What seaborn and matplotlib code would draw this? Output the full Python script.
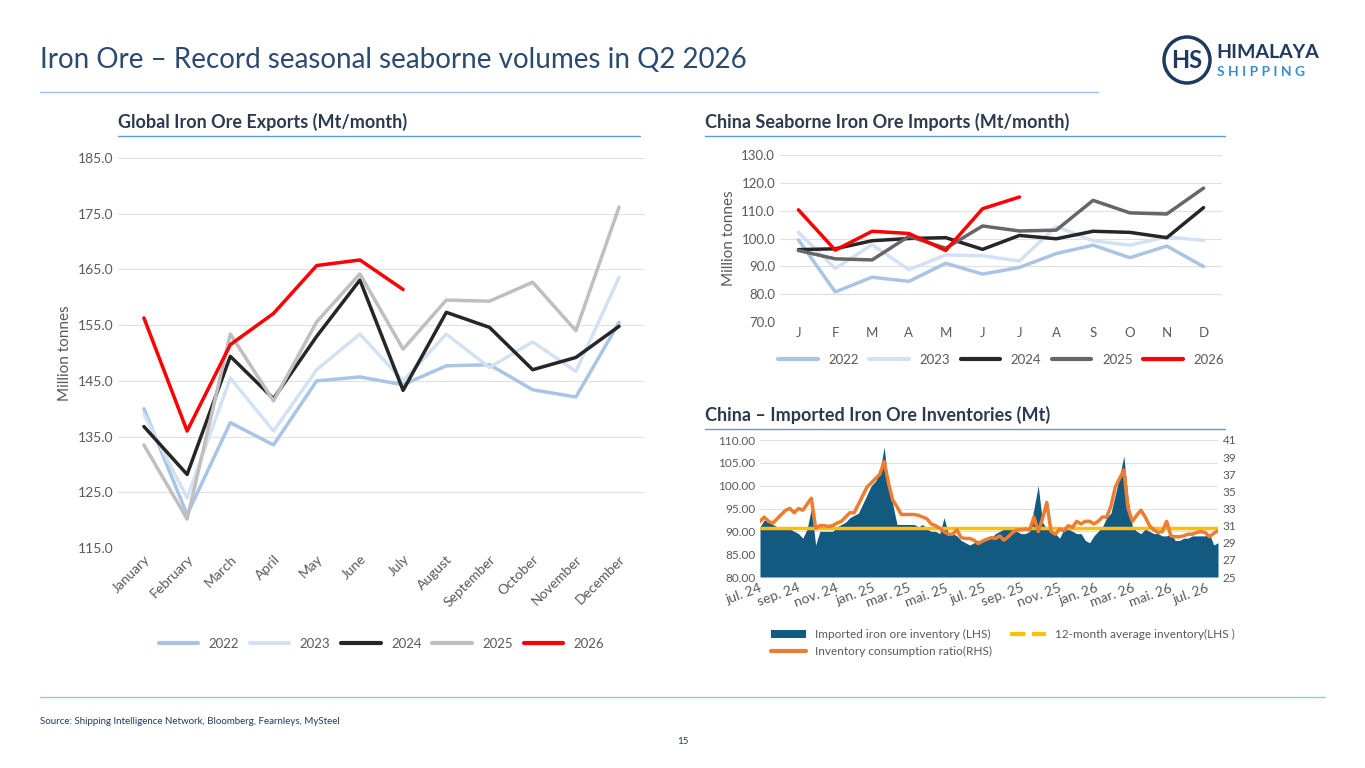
import numpy as np
import pandas as pd
import matplotlib
matplotlib.use("Agg")
import matplotlib.pyplot as plt
import seaborn as sns
from matplotlib.patches import Ellipse
from matplotlib.lines import Line2D

sns.set_style("white")
plt.rcParams['font.family'] = ['Lato', 'DejaVu Sans']

# --- data: global exports (Mt/month)
months_long = ["January", "February", "March", "April", "May", "June", "July",
               "August", "September", "October", "November", "December"]
exp_2022 = [140.0, 121.0, 137.5, 133.5, 145.0, 145.7, 144.3, 147.7, 147.9, 143.4, 142.1, 155.5]
exp_2023 = [139.0, 124.0, 145.5, 136.0, 147.0, 153.4, 145.0, 153.4, 147.4, 152.0, 146.7, 163.6]
exp_2024 = [136.8, 128.2, 149.4, 141.8, 153.0, 163.1, 143.3, 157.3, 154.6, 147.0, 149.2, 154.8]
exp_2025 = [133.5, 120.2, 153.4, 141.4, 155.6, 164.2, 150.7, 159.5, 159.3, 162.7, 154.0, 176.2]
exp_2026 = [156.3, 136.0, 151.5, 157.1, 165.7, 166.7, 161.4]

# --- data: China seaborne imports (Mt/month)
months_short = ["J", "F", "M", "A", "M", "J", "J", "A", "S", "O", "N", "D"]
imp_2022 = [99.5, 80.8, 86.1, 84.6, 91.1, 87.2, 89.6, 94.6, 97.6, 93.1, 97.3, 89.9]
imp_2023 = [102.2, 89.2, 97.8, 88.8, 94.1, 93.8, 91.9, 104.3, 99.2, 97.6, 100.6, 99.3]
imp_2024 = [96.0, 96.3, 99.2, 100.0, 100.3, 96.1, 101.1, 99.9, 102.6, 102.2, 100.3, 111.1]
imp_2025 = [95.7, 92.7, 92.3, 100.8, 96.5, 104.5, 102.7, 103.0, 113.7, 109.2, 108.8, 118.1]
imp_2026 = [110.3, 95.8, 102.6, 101.8, 95.7, 110.7, 114.9]

# --- data: China imported ore inventories (weekly, Mt) and consumption ratio
inventory = [91, 92.5, 92, 91.5, 91, 91, 90.5, 90.5,
             90, 89.5, 88.5, 90.5,
             95, 87, 90, 90, 90,
             90, 91, 91.5, 92, 93,
             93.5, 94, 96, 98, 100,
             101, 103, 108.5, 100, 96,
             91.5, 91.5, 91.5, 91.5,
             91.5, 91, 91.5, 90.5, 90,
             90, 89.5, 93, 89.5,
             89.5, 89, 88, 87.5,
             87, 87.5, 88, 88, 88.5,
             88.5, 89.5, 90, 90.5, 91,
             90.5, 90, 89.5, 89.5,
             90, 95, 100, 92, 90.5,
             90, 89.5, 88.5, 90.5,
             90.5, 90, 89.5, 89.5, 88,
             87.5, 89, 90, 91,
             93, 94, 98, 102, 106.5,
             97, 91, 90, 89.5,
             90.5, 90, 89.5, 89.5, 89,
             89, 89.5, 88, 88,
             88.5, 88.5, 89, 89,
             89, 89, 89.5, 87, 87.5]
cons_ratio = [31.5, 32, 31.5, 31.3, 31.8, 32.3, 32.8, 33,
              32.5, 33, 32.8, 33.5,
              34.2, 30.7, 31, 31, 30.9,
              31, 31.3, 31.5, 32, 32.5,
              32.5, 33.5, 34.5, 35.5, 36,
              36.5, 37, 38.5, 36, 34,
              33.2, 32.3, 32.3, 32.3,
              32.3, 32.2, 32, 31.8, 31.2,
              31, 30.7, 30.3, 30,
              30, 30.5, 29.6, 29.5,
              29.5, 29.3, 28.9, 29.2, 29.4,
              29.6, 29.5, 29.8, 29.3, 29.7,
              30.2, 30.5, 30.5, 30.6,
              30.5, 32, 30.3, 31.8, 33.7,
              30.3, 30, 30.6, 30.4,
              31, 30.8, 31.5, 31.2, 31.5,
              31.5, 31.2, 31.5, 32,
              32, 33.3, 35.5, 36.5, 37.5,
              33, 31.5, 32.2, 32.8,
              32, 31, 30.5, 30.2, 30.3,
              31.5, 29.8, 29.7, 29.7,
              29.8, 30, 30, 30.2,
              30.3, 30.2, 29.7, 30.1, 30.4]
inv_avg = 90.7
inv_ticks = ["jul. 24", "sep. 24", "nov. 24", "jan. 25", "mar. 25", "mai. 25", "jul. 25",
             "sep. 25", "nov. 25", "jan. 26", "mar. 26", "mai. 26", "jul. 26"]

years = ["2022", "2023", "2024", "2025", "2026"]
pal_left = {"2022": "#A9C4E4", "2023": "#D3E2F2", "2024": "#262626", "2025": "#BFBFBF", "2026": "#FF0000"}
pal_right = {"2022": "#A9C4E4", "2023": "#D3E2F2", "2024": "#262626", "2025": "#666666", "2026": "#FF0000"}
grey = "#595959"
navy = "#1F3A5F"
rule = "#9DC3E6"


def long_df(series, labels):
    rows = []
    for yr, vals in zip(years, series):
        for i, v in enumerate(vals):
            rows.append({"x": i, "label": labels[i], "year": yr, "value": v})
    return pd.DataFrame(rows)


def thick_legend(leg):
    for ln in leg.get_lines():
        ln.set_linewidth(3)


fig = plt.figure(figsize=(13.65, 7.68), dpi=100)

# header
fig.text(40 / 1365, 1 - 60 / 768, "Iron Ore – Record seasonal seaborne volumes in Q2 2026",
         fontsize=20, color="#2B4A6F", va="center")
fig.add_artist(Line2D([40 / 1365, 1098 / 1365], [1 - 92 / 768] * 2, color=rule, lw=1))
fig.add_artist(Line2D([40 / 1365, 1325 / 1365], [1 - 697 / 768] * 2, color=rule, lw=1))
fig.text(40 / 1365, 1 - 722 / 768, "Source: Shipping Intelligence Network, Bloomberg, Fearnleys, MySteel",
         fontsize=7, color=navy, va="center")
fig.text(683 / 1365, 1 - 741 / 768, "15", fontsize=7, color=navy, ha="center", va="center")

# logo
fig.add_artist(Ellipse((1187 / 1365, 1 - 60 / 768), 46 / 1365, 46 / 768, transform=fig.transFigure,
                       facecolor="white", edgecolor=navy, lw=2.5))
fig.text(1187 / 1365, 1 - 60 / 768, "HS", fontsize=17, fontweight="bold", color=navy,
         ha="center", va="center")
fig.text(1216 / 1365, 1 - 52 / 768, "HIMALAYA", fontsize=14, fontweight="bold", color=navy, va="center")
fig.text(1217 / 1365, 1 - 72 / 768, "S H I P P I N G", fontsize=10, fontweight="bold", color="#3B8FD0", va="center")

# section headers
for x0, x1, y, txt in [(118, 640, 122, "Global Iron Ore Exports (Mt/month)"),
                       (705, 1225, 122, "China Seaborne Iron Ore Imports (Mt/month)"),
                       (705, 1225, 415, "China – Imported Iron Ore Inventories (Mt)")]:
    fig.text(x0 / 1365, 1 - y / 768, txt, fontsize=13, fontweight="bold", color="#2B3A4F", va="center")
    fig.add_artist(Line2D([x0 / 1365, x1 / 1365], [1 - (y + 14) / 768] * 2, color="#5B9BD5", lw=1))

# left chart
ax1 = fig.add_axes([118 / 1365, 1 - 548 / 768, 527 / 1365, 390 / 768])
df1 = long_df([exp_2022, exp_2023, exp_2024, exp_2025, exp_2026], months_long)
sns.lineplot(data=df1, x="x", y="value", hue="year", palette=pal_left, lw=2.5, ax=ax1)
ax1.set_ylim(115, 185)
ax1.set_yticks(np.arange(115, 186, 10))
ax1.set_yticklabels([f"{v:.1f}" for v in np.arange(115, 186, 10)])
ax1.set_xlim(-0.6, 11.6)
ax1.set_xticks(range(12))
ax1.set_xticklabels(months_long, rotation=45, ha="right", rotation_mode="anchor", fontsize=11)
ax1.set_xlabel("")
ax1.set_ylabel("Million tonnes", color=grey, fontsize=11)
ax1.grid(axis="y", color="#E0E0E0", lw=0.8)
ax1.tick_params(colors=grey, labelsize=10, length=0)
sns.despine(ax=ax1, left=True, bottom=True)
thick_legend(ax1.legend(loc="upper center", bbox_to_anchor=(0.5, -0.2), ncol=5, frameon=False,
                        fontsize=9.5, labelcolor=grey, handlelength=3, columnspacing=0.8))

# top right chart
ax2 = fig.add_axes([780 / 1365, 1 - 322 / 768, 442 / 1365, 167 / 768])
df2 = long_df([imp_2022, imp_2023, imp_2024, imp_2025, imp_2026], months_short)
sns.lineplot(data=df2, x="x", y="value", hue="year", palette=pal_right, lw=2.5, ax=ax2)
ax2.set_ylim(70, 130)
ax2.set_yticks(np.arange(70, 131, 10))
ax2.set_yticklabels([f"{v:.1f}" for v in np.arange(70, 131, 10)])
ax2.set_xlim(-0.5, 11.5)
ax2.set_xticks(range(12))
ax2.set_xticklabels(months_short)
ax2.set_xlabel("")
ax2.set_ylabel("Million tonnes", color=grey, fontsize=11)
ax2.grid(axis="y", color="#E0E0E0", lw=0.8)
ax2.tick_params(colors=grey, labelsize=9.5, length=0)
sns.despine(ax=ax2, left=True, bottom=True)
thick_legend(ax2.legend(loc="upper center", bbox_to_anchor=(0.5, -0.12), ncol=5, frameon=False,
                        fontsize=9.5, labelcolor=grey, handlelength=3, columnspacing=0.8))

# bottom right chart
dates = pd.date_range("2024-07-01", periods=len(inventory), freq="7D")
ax3 = fig.add_axes([760 / 1365, 1 - 577 / 768, 458 / 1365, 137 / 768])
ax3.fill_between(dates, 80, inventory, color="#135A80", lw=0, label="Imported iron ore inventory (LHS)")
sns.lineplot(x=dates, y=[inv_avg] * len(dates), color="#FFC000", lw=2.5, ax=ax3,
             label="12-month average inventory(LHS )")
ax3.set_ylim(80, 110)
ax3.set_yticks(np.arange(80, 111, 5))
ax3.set_yticklabels([f"{v:.2f}" for v in np.arange(80, 111, 5)])
ax3.set_xlim(dates[0], dates[-1])
tick_dates = pd.date_range("2024-07-01", periods=len(inv_ticks), freq="2MS")
ax3.set_xticks(tick_dates)
ax3.set_xticklabels(inv_ticks, rotation=20, ha="right", rotation_mode="anchor", fontsize=10)
ax3.set_xlabel("")
ax3.grid(axis="y", color="#E0E0E0", lw=0.8)
ax3.tick_params(axis="y", colors=grey, labelsize=8.5, length=0)
ax3.tick_params(axis="x", colors=grey, length=0)
sns.despine(ax=ax3, left=True, bottom=True)

ax4 = ax3.twinx()
sns.lineplot(x=dates, y=cons_ratio, color="#ED7D31", lw=2.5, ax=ax4, label="Inventory consumption ratio(RHS)")
ax4.set_ylim(25, 41)
ax4.set_yticks(range(25, 42, 2))
ax4.set_ylabel("")
ax4.tick_params(colors=grey, labelsize=8.5, length=0)
sns.despine(ax=ax4, left=True, bottom=True, right=True)
ax4.legend_.remove()

h3, l3 = ax3.get_legend_handles_labels()
h4, l4 = ax4.get_legend_handles_labels()
leg = ax3.legend([h3[0], h4[0], h3[1]], [l3[0], l4[0], l3[1]], loc="upper left",
                 bbox_to_anchor=(0.0, -0.3), ncol=2, frameon=False,
                 fontsize=8.5, labelcolor=grey, handlelength=3, columnspacing=1.5)
thick_legend(leg)
leg.get_lines()[-1].set_linestyle("--")

fig.savefig("out.png", dpi=100)
